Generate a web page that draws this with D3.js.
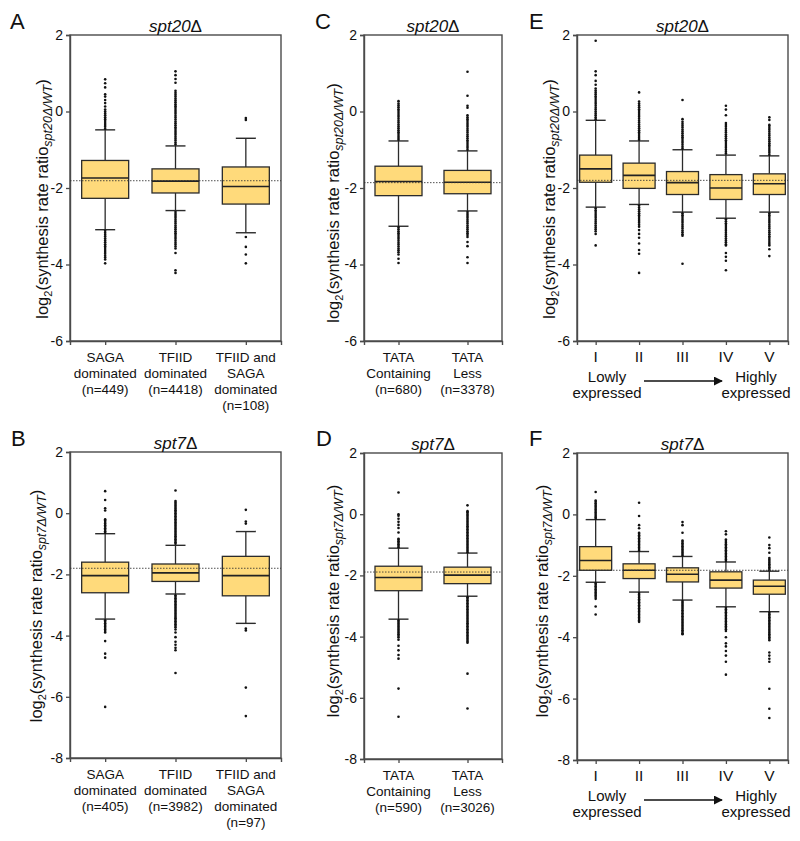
<!DOCTYPE html>
<html><head><meta charset="utf-8">
<script src="https://cdn.jsdelivr.net/npm/d3@7"></script>
<style>body{margin:0;background:#fff} svg{display:block;font-family:"Liberation Sans",Arial,Helvetica,sans-serif}</style>
</head><body><svg id="c" width="800" height="841"></svg>
<script>
// ---------------- DATA ----------------
const yTicksTop = [2, 0, -2, -4, -6];
const yTicksBottom = [2, 0, -2, -4, -6, -8];

const catsA = [["SAGA","dominated","(n=449)"],["TFIID","dominated","(n=4418)"],["TFIID and","SAGA","dominated","(n=108)"]];
const catsB = [["SAGA","dominated","(n=405)"],["TFIID","dominated","(n=3982)"],["TFIID and","SAGA","dominated","(n=97)"]];
const catsC = [["TATA","Containing","(n=680)"],["TATA","Less","(n=3378)"]];
const catsD = [["TATA","Containing","(n=590)"],["TATA","Less","(n=3026)"]];
const catsEF = [["I"],["II"],["III"],["IV"],["V"]];

// [lower whisker, Q1, median, Q3, upper whisker]
const statsA = [[-3.09,-2.27,-1.74,-1.28,-0.48],[-2.59,-2.13,-1.82,-1.50,-0.90],[-3.17,-2.42,-1.96,-1.45,-0.70]];
const statsB = [[-3.46,-2.60,-2.04,-1.60,-0.67],[-2.64,-2.23,-1.95,-1.66,-1.05],[-3.60,-2.70,-2.04,-1.41,-0.60]];
const statsC = [[-3.00,-2.20,-1.83,-1.43,-0.77],[-2.60,-2.15,-1.85,-1.54,-1.03]];
const statsD = [[-3.43,-2.50,-2.07,-1.70,-1.11],[-2.68,-2.27,-1.99,-1.73,-1.27]];
const statsE = [[-2.50,-1.85,-1.50,-1.14,-0.23],[-2.43,-2.01,-1.67,-1.35,-0.77],[-2.63,-2.17,-1.86,-1.57,-1.00],[-2.79,-2.30,-2.00,-1.65,-1.14],[-2.63,-2.17,-1.89,-1.63,-1.16]];
const statsF = [[-2.21,-1.82,-1.50,-1.05,-0.17],[-2.53,-2.09,-1.82,-1.61,-1.21],[-2.79,-2.20,-1.95,-1.74,-1.37],[-3.01,-2.40,-2.14,-1.87,-1.55],[-3.17,-2.60,-2.34,-2.14,-1.85]];

// reference (dotted) lines
const refValues = {A:-1.81, B:-1.80, C:-1.86, D:-1.89, E:-1.80, F:-1.82};

// outliers per category
const outA = [
  [-0.45,-0.40,-0.35,-0.30,-0.25,-0.20,-0.15,-0.10,-0.05,0.00,0.05,0.13,0.22,0.30,0.39,0.45,0.63,0.74,0.84,
   -3.12,-3.17,-3.22,-3.27,-3.32,-3.37,-3.42,-3.47,-3.52,-3.57,-3.62,-3.67,-3.72,-3.77,-3.82,-3.87,-3.97],
  [-0.86,-0.81,-0.76,-0.71,-0.66,-0.61,-0.56,-0.51,-0.46,-0.41,-0.36,-0.31,-0.26,-0.21,-0.16,-0.11,-0.06,-0.01,0.04,0.09,0.14,0.19,0.24,0.29,0.34,0.39,0.44,0.49,0.54,0.75,0.85,0.95,1.05,
   -2.63,-2.68,-2.73,-2.78,-2.83,-2.88,-2.93,-2.98,-3.03,-3.08,-3.13,-3.18,-3.23,-3.28,-3.33,-3.38,-3.43,-3.48,-3.53,-3.58,-3.70,-4.15,-4.22],
  [-0.17,-0.22,-3.28,-3.54,-3.74,-3.97]
];
const outB = [
  [-0.64,-0.59,-0.54,-0.49,-0.44,-0.39,-0.34,-0.29,-0.24,-0.20,0.09,0.16,0.43,0.72,
   -3.50,-3.55,-3.60,-3.65,-3.70,-3.75,-3.80,-3.85,-3.90,-4.18,-4.59,-4.72,-6.33],
  [-1.00,-0.95,-0.90,-0.85,-0.80,-0.75,-0.70,-0.65,-0.60,-0.55,-0.50,-0.45,-0.40,-0.35,-0.30,-0.25,-0.20,-0.15,-0.10,-0.05,0.00,0.05,0.10,0.15,0.20,0.25,0.30,0.35,0.40,0.74,
   -2.68,-2.73,-2.78,-2.83,-2.88,-2.93,-2.98,-3.03,-3.08,-3.13,-3.18,-3.23,-3.28,-3.33,-3.38,-3.43,-3.48,-3.53,-3.58,-3.63,-3.68,-3.73,-3.80,-3.90,-4.05,-4.20,-4.30,-4.40,-4.48,-5.22],
  [-0.34,-0.27,0.11,-3.77,-3.83,-5.70,-6.63]
];
const outC = [
  [-0.74,-0.69,-0.64,-0.59,-0.54,-0.49,-0.44,-0.39,-0.34,-0.29,-0.24,-0.19,-0.14,-0.09,-0.04,0.01,0.06,0.11,0.16,0.21,0.27,
   -3.03,-3.08,-3.13,-3.18,-3.23,-3.28,-3.33,-3.38,-3.43,-3.48,-3.53,-3.58,-3.63,-3.68,-3.74,-3.85,-3.96],
  [-1.00,-0.95,-0.90,-0.85,-0.80,-0.75,-0.70,-0.65,-0.60,-0.55,-0.50,-0.45,-0.40,-0.35,-0.30,-0.25,-0.20,-0.15,-0.10,0.10,0.15,0.41,1.04,
   -2.63,-2.68,-2.73,-2.78,-2.83,-2.88,-2.93,-2.98,-3.03,-3.08,-3.13,-3.18,-3.23,-3.28,-3.41,-3.52,-3.81,-3.96]
];
const outD = [
  [-1.08,-1.03,-0.98,-0.93,-0.88,-0.83,-0.80,-0.60,-0.45,-0.35,-0.25,-0.15,-0.05,0.00,0.71,
   -3.47,-3.52,-3.57,-3.62,-3.67,-3.72,-3.77,-3.82,-3.87,-3.92,-3.97,-4.02,-4.10,-4.30,-4.45,-4.60,-4.72,-5.70,-6.62],
  [-1.24,-1.19,-1.14,-1.09,-1.04,-0.99,-0.94,-0.89,-0.84,-0.79,-0.74,-0.69,-0.64,-0.59,-0.54,-0.49,-0.44,-0.39,-0.34,-0.29,-0.24,-0.19,-0.14,-0.09,-0.04,0.01,0.06,0.10,0.29,
   -2.71,-2.76,-2.81,-2.86,-2.91,-2.96,-3.01,-3.06,-3.11,-3.16,-3.21,-3.26,-3.31,-3.36,-3.41,-3.46,-3.51,-3.56,-3.61,-3.66,-3.71,-3.76,-3.81,-3.86,-3.91,-3.96,-4.01,-4.06,-4.11,-4.16,-4.20,-5.21,-6.35]
];
const outE = [
  [-0.20,-0.15,-0.10,-0.05,0.00,0.05,0.10,0.15,0.20,0.25,0.30,0.35,0.40,0.45,0.50,0.55,0.60,0.70,0.80,0.95,1.05,1.85,
   -2.53,-2.58,-2.63,-2.68,-2.73,-2.78,-2.83,-2.88,-2.93,-2.98,-3.03,-3.08,-3.13,-3.20,-3.50],
  [-0.74,-0.69,-0.64,-0.59,-0.54,-0.49,-0.44,-0.39,-0.34,-0.29,-0.24,-0.19,-0.14,-0.09,-0.04,0.01,0.06,0.11,0.16,0.21,0.26,0.50,
   -2.46,-2.51,-2.56,-2.61,-2.66,-2.71,-2.76,-2.81,-2.86,-2.91,-2.96,-3.01,-3.10,-3.20,-3.30,-3.45,-3.62,-3.72,-4.22],
  [-0.97,-0.92,-0.87,-0.82,-0.77,-0.72,-0.67,-0.62,-0.57,-0.52,-0.47,-0.42,-0.37,-0.32,-0.27,-0.20,0.30,
   -2.66,-2.71,-2.76,-2.81,-2.86,-2.91,-2.96,-3.01,-3.06,-3.11,-3.16,-3.21,-3.25,-3.98],
  [-1.10,-1.05,-1.00,-0.95,-0.90,-0.85,-0.80,-0.75,-0.70,-0.65,-0.60,-0.55,-0.50,-0.45,-0.40,-0.35,-0.30,-0.10,0.05,0.15,
   -2.82,-2.87,-2.92,-2.97,-3.02,-3.07,-3.12,-3.17,-3.22,-3.27,-3.32,-3.37,-3.42,-3.47,-3.50,-3.70,-3.80,-3.90,-4.15],
  [-1.13,-1.08,-1.03,-0.98,-0.93,-0.88,-0.83,-0.78,-0.73,-0.68,-0.63,-0.58,-0.53,-0.48,-0.43,-0.38,-0.35,-0.22,-0.15,
   -2.66,-2.71,-2.76,-2.81,-2.86,-2.91,-2.96,-3.01,-3.06,-3.11,-3.16,-3.21,-3.26,-3.31,-3.36,-3.41,-3.46,-3.50,-3.60,-3.78]
];
const outF = [
  [-0.14,-0.09,-0.04,0.01,0.06,0.11,0.16,0.21,0.26,0.31,0.36,0.41,0.45,0.73,
   -2.24,-2.29,-2.34,-2.39,-2.44,-2.49,-2.54,-2.59,-2.64,-2.69,-2.75,-3.00,-3.26],
  [-1.18,-1.13,-1.08,-1.03,-0.98,-0.93,-0.88,-0.83,-0.78,-0.73,-0.68,-0.63,-0.60,-0.45,-0.35,-0.05,0.38,
   -2.56,-2.61,-2.66,-2.71,-2.76,-2.81,-2.86,-2.91,-2.96,-3.01,-3.06,-3.11,-3.16,-3.21,-3.26,-3.31,-3.36,-3.41,-3.46,-3.50],
  [-1.34,-1.29,-1.24,-1.19,-1.14,-1.09,-1.04,-0.99,-0.94,-0.89,-0.85,-0.60,-0.35,-0.25,
   -2.82,-2.87,-2.92,-2.97,-3.02,-3.07,-3.12,-3.17,-3.22,-3.27,-3.32,-3.37,-3.42,-3.47,-3.52,-3.57,-3.62,-3.67,-3.72,-3.77,-3.82,-3.87,-3.90],
  [-1.52,-1.47,-1.42,-1.37,-1.32,-1.27,-1.22,-1.17,-1.12,-1.07,-1.02,-0.97,-0.92,-0.87,-0.82,-0.65,-0.55,
   -3.04,-3.09,-3.14,-3.19,-3.24,-3.29,-3.34,-3.39,-3.44,-3.49,-3.54,-3.59,-3.64,-3.69,-3.74,-3.80,-4.00,-4.20,-4.30,-4.45,-4.60,-4.80,-5.22],
  [-1.82,-1.77,-1.72,-1.67,-1.62,-1.57,-1.52,-1.47,-1.42,-1.25,-1.10,-1.00,-0.75,
   -3.20,-3.25,-3.30,-3.35,-3.40,-3.45,-3.50,-3.55,-3.60,-3.65,-3.70,-3.75,-3.80,-3.85,-3.90,-3.95,-4.00,-4.05,-4.10,-4.50,-4.60,-4.70,-4.80,-5.68,-6.33,-6.63]
];

// ---------------- LAYOUT ----------------
const panels = [
  {id:"A", strain:"spt20", cats:catsA, stats:statsA, out:outA, ticks:yTicksTop, dom:[-6,2], x0:70, x1:281, y0:35, y1:341, pad:0.5, bw:47, lx:48, ly:199, letterX:10, letterY:29},
  {id:"B", strain:"spt7",  cats:catsB, stats:statsB, out:outB, ticks:yTicksBottom, dom:[-8,2], x0:70, x1:281, y0:452, y1:758, pad:0.5, bw:47, lx:42, ly:606, letterX:11, letterY:446},
  {id:"C", strain:"spt20", cats:catsC, stats:statsC, out:outC, ticks:yTicksTop, dom:[-6,2], x0:364, x1:502, y0:35, y1:341, pad:0.5, bw:47, lx:339, ly:203, letterX:315, letterY:29},
  {id:"D", strain:"spt7",  cats:catsD, stats:statsD, out:outD, ticks:yTicksBottom, dom:[-8,2], x0:364, x1:502, y0:453, y1:759, pad:0.5, bw:47, lx:339, ly:601, letterX:316, letterY:446},
  {id:"E", strain:"spt20", cats:catsEF, stats:statsE, out:outE, ticks:yTicksTop, dom:[-6,2], x0:577, x1:788, y0:35, y1:341, pad:0.43, bw:32, lx:555, ly:199, letterX:529, letterY:29, expr:true},
  {id:"F", strain:"spt7",  cats:catsEF, stats:statsF, out:outF, ticks:yTicksBottom, dom:[-8,2], x0:577, x1:788, y0:453, y1:760, pad:0.43, bw:32, lx:548, ly:601, letterX:529, letterY:446, expr:true}
];

const svg = d3.select("#c");
const defs = svg.append("defs");
defs.append("marker").attr("id","arr").attr("viewBox","0 0 10 10").attr("refX",9).attr("refY",5)
  .attr("markerWidth",9).attr("markerHeight",9).attr("markerUnits","userSpaceOnUse").attr("orient","auto")
  .append("path").attr("d","M0,0L10,5L0,10Z").attr("fill","#111");

const FILL = "#FFDA7B", DARK = "#2b2b2b", AXIS = "#4a4a4a";

panels.forEach(p => {
  const g = svg.append("g");
  const y = d3.scaleLinear().domain(p.dom).range([p.y1, p.y0]);
  const idx = p.cats.map((c,i)=>i);
  const x = d3.scalePoint().domain(idx).range([p.x0, p.x1]).padding(p.pad);

  // frame
  g.append("rect").attr("x",p.x0).attr("y",p.y0).attr("width",p.x1-p.x0).attr("height",p.y1-p.y0)
    .attr("fill","none").attr("stroke",AXIS).attr("stroke-width",1.4);

  // y axis
  const ya = g.append("g").attr("transform",`translate(${p.x0},0)`)
    .call(d3.axisLeft(y).tickValues(p.ticks).tickSize(4).tickPadding(3).tickFormat(d3.format("d")));
  ya.select(".domain").attr("stroke",AXIS).attr("stroke-width",1.4);
  ya.selectAll(".tick line").attr("stroke",AXIS).attr("stroke-width",1.3);
  ya.selectAll(".tick text").attr("font-size",14).attr("fill","#111")
    .attr("font-family","'Liberation Sans',Arial,sans-serif").text(d => d < 0 ? "-" + Math.abs(d) : d);

  // x axis
  const xa = g.append("g").attr("transform",`translate(0,${p.y1})`)
    .call(d3.axisBottom(x).tickSize(4).tickFormat(""));
  xa.select(".domain").attr("stroke",AXIS).attr("stroke-width",1.4);
  xa.selectAll(".tick line").attr("stroke",AXIS).attr("stroke-width",1.3);

  // category labels
  p.cats.forEach((lines,i) => {
    const t = g.append("text").attr("text-anchor","middle").attr("font-size",p.expr?15.5:13.5).attr("fill","#111");
    lines.forEach((ln,k) => t.append("tspan").attr("x",x(i)).attr("y",p.y1+21+k*16).text(ln));
  });

  // boxes
  p.stats.forEach((s,i) => {
    const cx = x(i), hw = p.bw/2, cap = 10;
    const [lo,q1,md,q3,hi] = s;
    g.append("line").attr("x1",cx).attr("x2",cx).attr("y1",y(hi)).attr("y2",y(q3)).attr("stroke",DARK).attr("stroke-width",1.3);
    g.append("line").attr("x1",cx).attr("x2",cx).attr("y1",y(q1)).attr("y2",y(lo)).attr("stroke",DARK).attr("stroke-width",1.3);
    g.append("line").attr("x1",cx-cap).attr("x2",cx+cap).attr("y1",y(hi)).attr("y2",y(hi)).attr("stroke",DARK).attr("stroke-width",1.4);
    g.append("line").attr("x1",cx-cap).attr("x2",cx+cap).attr("y1",y(lo)).attr("y2",y(lo)).attr("stroke",DARK).attr("stroke-width",1.4);
    g.append("rect").attr("x",cx-hw).attr("y",y(q3)).attr("width",p.bw).attr("height",y(q1)-y(q3))
      .attr("fill",FILL).attr("stroke",DARK).attr("stroke-width",1.3);
    g.append("line").attr("x1",cx-hw).attr("x2",cx+hw).attr("y1",y(md)).attr("y2",y(md)).attr("stroke","#222").attr("stroke-width",1.6);
    // outliers
    g.selectAll(null).data(p.out[i]).enter().append("circle")
      .attr("cx",cx).attr("cy",d=>y(d)).attr("r",1.3).attr("fill","#111");
  });
  // dotted reference line, drawn over the boxes
  g.append("line").attr("x1",p.x0).attr("x2",p.x1).attr("y1",y(refValues[p.id])).attr("y2",y(refValues[p.id]))
    .attr("stroke","#333").attr("stroke-width",1).attr("stroke-dasharray","1.5,1.5").attr("opacity",0.85);

  // title (italic strain name, upright delta)
  const tt = g.append("text").attr("x",(p.x0+p.x1)/2).attr("y",p.y0-3).attr("text-anchor","middle")
    .attr("font-size",17).attr("fill","#111");
  tt.append("tspan").attr("font-style","italic").text(p.strain);
  tt.append("tspan").text("\u0394");

  // panel letter
  g.append("text").attr("x",p.letterX).attr("y",p.letterY).attr("font-size",22).attr("fill","#111").text(p.id);

  // y label
  const yl = g.append("text").attr("transform",`translate(${p.lx},${p.ly}) rotate(-90)`)
    .attr("text-anchor","middle").attr("font-size",16.5).attr("fill","#111");
  yl.append("tspan").text("log");
  yl.append("tspan").attr("font-size",11).attr("dy",4).text("2");
  yl.append("tspan").attr("dy",-4).text("(synthesis rate ratio");
  yl.append("tspan").attr("font-size",12.5).attr("font-style","italic").attr("dy",4).text(p.strain + "\u0394/WT");
  yl.append("tspan").attr("dy",-4).text(")");

  // expression arrow annotation
  if (p.expr) {
    const lx = (p.x0 + 30), hx = (p.x1 - 32);
    const tl = g.append("text").attr("text-anchor","middle").attr("font-size",15).attr("fill","#111");
    tl.append("tspan").attr("x",lx).attr("y",p.y1+41).text("Lowly");
    tl.append("tspan").attr("x",lx).attr("y",p.y1+57).text("expressed");
    const th = g.append("text").attr("text-anchor","middle").attr("font-size",15).attr("fill","#111");
    th.append("tspan").attr("x",hx).attr("y",p.y1+41).text("Highly");
    th.append("tspan").attr("x",hx).attr("y",p.y1+57).text("expressed");
    g.append("line").attr("x1",p.x0+67).attr("x2",p.x0+145).attr("y1",p.y1+40).attr("y2",p.y1+40)
      .attr("stroke","#111").attr("stroke-width",1.3).attr("marker-end","url(#arr)");
  }
});
</script></body></html>
